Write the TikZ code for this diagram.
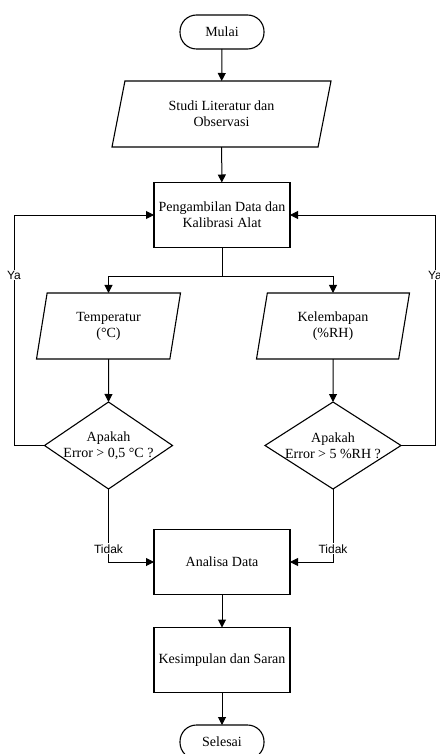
\documentclass[tikz,border=0pt]{standalone}
\usepackage{fontspec}
\setmainfont{Liberation Serif}
\setsansfont{Liberation Sans}
\usetikzlibrary{shapes.geometric,arrows.meta}

\begin{document}
\begin{tikzpicture}[x=1pt, y=-1pt,
        every node/.style={font=\fontsize{14}{16}\selectfont, align=center, outer sep=0pt},
        terminal/.style={draw, line width=1.1pt, rounded corners=16.5pt, minimum width=84pt, minimum height=34pt},
        proses/.style={draw, line width=1.1pt, minimum width=136pt, minimum height=65pt},
        io/.style={draw, line width=1.1pt, trapezium, trapezium stretches body, minimum height=66pt, inner sep=0pt},
        cek/.style={draw, line width=1.1pt, diamond, minimum height=87pt},
        lbl/.style={fill=white, font=\sffamily\fontsize{12}{12}\selectfont, inner sep=1pt},
        arr/.style={line width=1pt, -{Triangle[length=8pt,width=8pt]}}]
            \useasboundingbox (0,0) rectangle (439,754);

            \node[terminal] (mulai) at (222,32) {Mulai};
            \node[io, minimum width=219pt, trapezium left angle=63.4, trapezium right angle=116.6] (studi) at (221.5,114) {Studi Literatur dan\\Observasi};
            \node[proses] (ambil) at (222,215) {Pengambilan Data dan\\Kalibrasi Alat};
            \node[io, minimum width=144pt, trapezium left angle=69.3, trapezium right angle=110.7] (temp) at (108.5,326) {Temperatur\\(°C)};
            \node[io, minimum width=153pt, trapezium left angle=69.3, trapezium right angle=110.7] (lembab) at (333,326) {Kelembapan\\(\%RH)};
            \node[cek, minimum width=128pt, label={center:{Apakah\\Error > 0,5 °C ?}}] (cekT) at (108.5,445.5) {};
            \node[cek, minimum width=136pt, label={center:{Apakah\\Error > 5 \%RH ?}}] (cekK) at (333,445.5) {};
            \node[proses] (analisa) at (222,562) {Analisa Data};
            \node[proses] (simpul) at (222,660) {Kesimpulan dan Saran};
            \node[terminal] (selesai) at (222,742) {Selesai};

            \coordinate (cabang) at (222,276);
            \coordinate (kiri) at (14,445.5);
            \coordinate (kanan) at (435,445.5);

            \draw[arr] (mulai) -- (studi);
            \draw[arr] (studi) -- (ambil);
            \draw[line width=1pt] (ambil) -- (cabang);
            \draw[arr] (cabang) -| (temp);
            \draw[arr] (cabang) -| (lembab);
            \draw[arr] (temp) -- (cekT);
            \draw[arr] (lembab) -- (cekK);

            % kembali jika error masih besar
            \draw[arr] (cekT.west) -- (kiri) |- node[lbl, pos=0.37] {Ya} (ambil.west);
            \draw[arr] (cekK.east) -- (kanan) |- node[lbl, pos=0.37] {Ya} (ambil.east);

            \draw[arr] (cekT.south) |- node[lbl, pos=0.41] {Tidak} (analisa.west);
            \draw[arr] (cekK.south) |- node[lbl, pos=0.41] {Tidak} (analisa.east);
            \draw[arr] (analisa) -- (simpul);
            \draw[arr] (simpul) -- (selesai);
        \end{tikzpicture}
\end{document}
